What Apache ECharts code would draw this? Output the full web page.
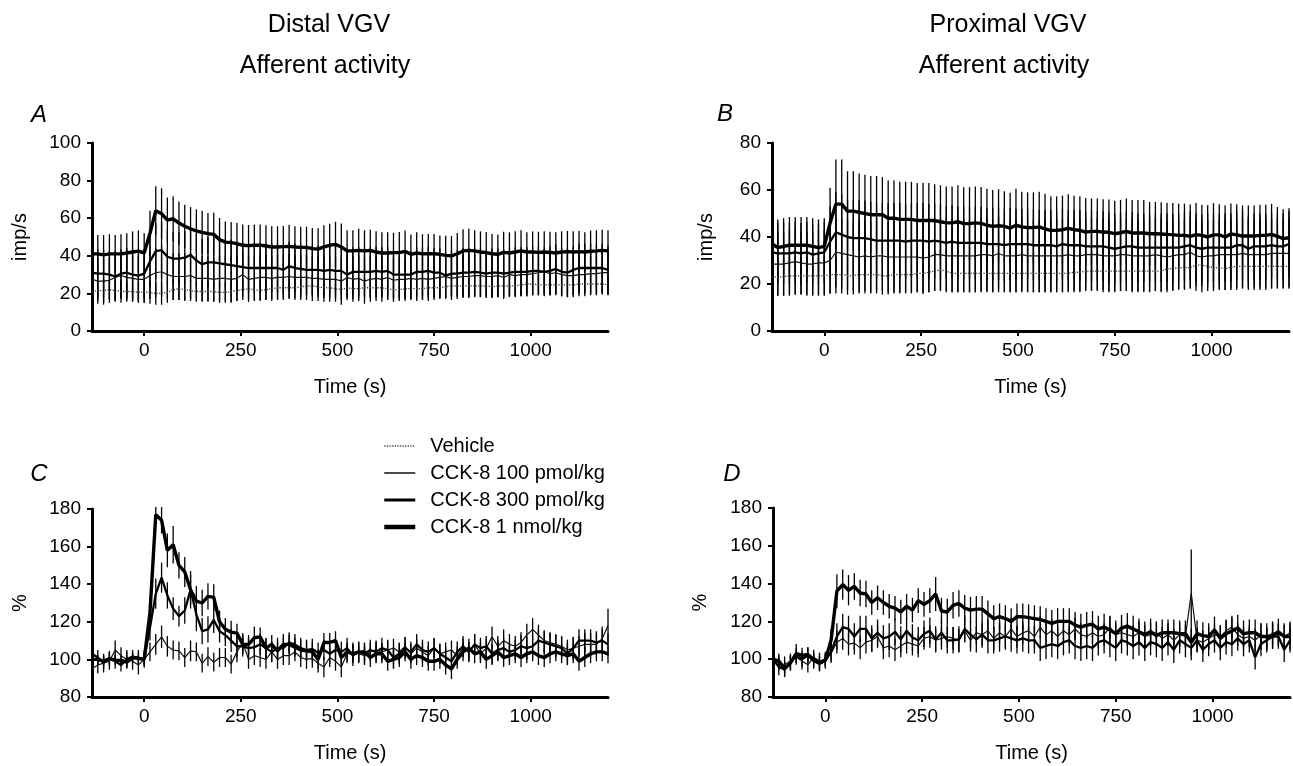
<!DOCTYPE html>
<html>
<head>
<meta charset="utf-8">
<script src="https://cdn.jsdelivr.net/npm/echarts@6/dist/echarts.min.js"></script>
<style>html,body{margin:0;padding:0;background:#fff}#c{width:1293px;height:766px}</style>
</head>
<body>
<div id="c"></div>
<script>
// ---------- DATA ----------
const time = [-135,-120,-105,-90,-75,-60,-45,-30,-15,0,15,30,45,60,75,90,105,120,135,150,165,180,195,210,225,240,255,270,285,300,315,330,345,360,375,390,405,420,435,450,465,480,495,510,525,540,555,570,585,600,615,630,645,660,675,690,705,720,735,750,765,780,795,810,825,840,855,870,885,900,915,930,945,960,975,990,1005,1020,1035,1050,1065,1080,1095,1110,1125,1140,1155,1170,1185,1200];
const xTicks = [0, 250, 500, 750, 1000];
const seriesNames = ['Vehicle', 'CCK-8 100 pmol/kg', 'CCK-8 300 pmol/kg', 'CCK-8 1 nmol/kg'];

// Panel A (Distal, imp/s)
const A_veh = [21,21.5,21.5,22,21.5,21,21,21,20.5,21,
20.5,20,20,20.5,22,22.5,22,21.5,21,21,21,21,20.5,20.5,21,21.5,22,22.5,22,21.5,22,22.5,23,23,23,23,23.5,24,24,23.5,23,23,
22.5,22,23,22.5,22.5,23,23,23,23,22.5,22,22,22.5,22.5,22.5,22.5,23,23,23,23.5,24,24,24,24,24,24,24,23.5,24,24,24,24,24.5,25,25,24.5,24.5,24.5,24.5,24.5,24.5,24.5,25,25,25,25,25,24.5];
const A_100 = [27.5,26.5,26.5,27,28.5,29.5,28.5,28,27.5,27.5,
29.5,31,31.5,30,29,29,29,29.5,28,28,28,27.5,28,28,27.5,28,30,27.5,28,28.5,28.5,28,28.5,28.5,29,28.5,28.5,28.5,28,28,27.5,27.5,
27.5,26.5,28.5,27.5,28,26.5,27.5,28,27.5,28.5,27,27.5,27.5,28,27.5,28,27.5,28,28.5,29,28,28.5,29,29,29.5,29.5,29,29,29.5,28.5,30,29.5,30,30,30.5,31,31.5,30.5,31,30,29.5,29.5,30,30,30.5,30.5,31,31];
const A_300 = [31,30.5,30.5,30,29,30.5,31,30,29.5,30.5,
37,42.5,43,39.5,38.5,38.5,39,40.5,37.5,35.5,36.5,36.5,36,35.5,35,34.5,34,33.5,33.5,33.5,33.5,33.5,33.5,32.5,34.5,33.5,33,32.5,32.5,32.5,32,32.5,
32,32,30,31.5,31.5,31.5,31.5,32,31.5,32,30,30,30,30,31.5,31.5,32,31,31,29.5,30.5,30.5,31,31,31.5,31,30.5,31,31,30.5,31,31.5,31.5,31.5,32,32,31.5,32,33,31.5,31,32.5,33.5,33.5,33.5,33.5,33.5,32.5];
const A_1n = [41,41,40.5,41,41,41,41.5,42,42.5,41.5,
52,64,62.4,59,59.7,57.4,55.7,54.4,53.2,52.5,51.8,51.4,48.6,47.3,47,46.5,45.6,45.4,45.6,45.7,45.2,44.7,44.7,44.9,45,44.7,44.5,44.5,43.8,43.6,44.7,45.6,
46.1,44.7,42.6,42.6,42.9,42.6,42.9,42,41.5,41.5,41.7,41.7,42.4,40.8,41.5,41,41.1,41.1,40.8,40.2,40,41.1,42.6,42.9,42.6,42,41.7,41.1,40.8,41.8,41.5,42,42.6,42,42,41.8,42,41.8,41.5,42,42.2,42,42.2,42,42.4,42.6,42.9,42.6];
const A_veh_sem = [5.5,5.5,6,5.5,5.5,6,5.5,5.5,5.5,6,
6,6,6,5.5,5.5,6,6,5.5,5.5,5.5,5.5,5.5,5.5,5.5,6,5.5,5.5,5.5,5.5,5.5,5.5,5.5,6,5.5,5.5,5.5,5.5,5.5,5.5,5.5,5.5,5.5,
5.5,5.5,5.5,5.5,5.5,5.5,5.5,5.5,5.5,5.5,5.5,5.5,5.5,5.5,5.5,5.5,5.5,5.5,5.5,5.5,5.5,5.5,5.5,5.5,5.5,5.5,5.5,5.5,5.5,5.5,5.5,5.5,5.5,5.5,5.5,5.5,5.5,5.5,5.5,5.5,5.5,5.5,5.5,5.5,5.5,5.5,5.5,5.5];
const A_100_sem = [12,12,12.5,12,12,12.5,12,12,12,12.5,
12.5,13,13.5,13,12.5,12.5,12.5,12.5,12,12,12,12,12,12,12,12,12,12,12,12,12,12,12,12,12,12,12,12,12,12,12,12,
12,12.5,12,12,12,12,12,12,12,12,11.5,11.5,11.5,11.5,11.5,11.5,11.5,11.5,11.5,11.5,11.5,11.5,11.5,11.5,11.5,11.5,11.5,11.5,11.5,11.5,11.5,11.5,11.5,11.5,11.5,11.5,11.5,11.5,11.5,11.5,11.5,11.5,11.5,11.5,11.5,11.5,11.5,11.5];
const A_300_sem = [13,13,12.5,13,13.5,13,13,13.5,13,13,
14,15,15,14.5,14,14,14,14.5,14,13.5,13.5,13.5,13.5,13.5,13.5,13,13,13,13,13,13,13,13,13,13,13,13,13,13,13,13,13,
13,13,12.5,13,13,13,13,13,13,13,12.5,12.5,12.5,12.5,13,13,13,13,13,12.5,12.5,12.5,13,13,13,13,12.5,13,13,13,13,13,13,13,13,13,13,13,13,13,13,13,13,13,13,13,13,13];
const A_1n_sem = [10,10,10.5,10.5,10,10.5,10.5,11,11,10.5,
12,13,13.5,12,12,11.5,11.5,11.5,11.5,11.5,11,11.5,11.5,11,11,11,11,11,11,11,11,11,11,11,11.5,11,11,11,11,11,11.5,11.5,
12,12.5,11,11,11.5,11,11,11,11,11,10.5,11,11,10.5,11,10.5,10.5,10.5,10,10.5,10.5,11,11.5,11.5,11,11,11,10.5,10.5,11,11,11,11,10.5,11,11,11,11,11,11,11,11,11,10.5,11,11,11,11];

// Panel B (Proximal, imp/s)
const B_veh = [23,23,23,23.5,23.5,23.5,23.5,23.5,23.5,23.5,
24,24,24,23.5,23.5,24,24,24,24,23.5,23.5,24,24,24,24,24.5,24.5,25,25.5,26,25.5,24.5,24.5,24.5,24.5,24.5,24.5,24.5,24.5,24.5,24.5,24.5,
24.5,24.5,24.5,24.5,24.5,24.5,24.5,24.5,24.5,24.5,25,25,25.5,25.5,25.5,25.5,25.5,25.5,25.5,25.5,25.5,25.5,25.5,25.5,25.5,25.5,26.5,26.5,27,27,27,28,28,27.5,27,27,26.5,27,27.5,27.5,27.5,27.5,27.5,27.5,27.5,27.5,27.5,27.5];
const B_100 = [28.5,28.5,28.5,29,29.5,29,28.5,28.5,29,29,
30,33.5,33,32.5,32,31.5,32,31.5,32,32,31.5,31.5,31.5,31.5,31.5,31.5,31,31.5,32.5,32.5,32,32,32,32,32,32,32.5,32.5,32,33,32,32,
32,32.5,32,32,32,32,32,32,32,32.5,32,32,32.5,32.5,32.5,32,32,32,32.5,32.5,32,32,32,32,32.5,32,31.5,32,32.5,32.5,33.5,32,31.5,32,32,32.5,32.5,32.5,32.5,33,32.5,32.5,32.5,32.5,33,33,33,33];
const B_300 = [33.5,33,33,33,33.5,33,33.5,32.5,33,33.5,
38,42,41,40,39.5,39.5,39.5,39,38.5,38.5,38.5,38.5,38.5,38,38.5,38.5,38.5,38,38.5,38,37.5,38,37.5,37.5,37.5,37.5,37.5,37,37,37,36.5,37,
37,37,37,36.5,36.5,36.5,36.5,36,37,36.5,36.5,36.5,36,36,36,36,35.5,35,35.5,36,36,35.5,35.5,35.5,35.5,35.5,35.5,35.5,35.5,36,36.5,35.5,35,35.5,35.5,35.5,35.5,35.5,36.5,36.5,35,36,36,36,36.5,36,36,37];
const B_1n = [37,35.5,36,36.5,36.5,36.5,36.5,36,35.5,36,
46,54,54,51,51,50.5,50,49.5,49.5,49.5,48,48,47.5,47.5,47.5,47,47,47,47,46.5,46,46,46.5,45.7,45.7,46,45.8,45,44.5,44.8,44.5,43.8,
45,44.3,44,44,44.3,43.4,42.8,42.8,43.1,43.7,43.1,42.8,42.1,42.4,42.4,42.1,42,41.4,41.8,42.4,41.7,41.7,41.7,41.4,41.4,41.3,41.1,41,40.7,40.7,40.3,41,40.7,40,40.9,40.9,40,41.3,40.9,40.4,40.4,40.4,40.7,40.7,41.1,40.3,39.3,39.7];
const B_veh_sem = [8,8,8,8,8,8,8,8,8,8,
8,8,8,8,8,8,8,8,8,8,8,8,8,8,8,8,8.5,8.5,8.5,8.5,8.5,8,8,8,8,8,8,8,8,8,8,8,
8,8,8,8,8,8,8,8,8,8,8,8,8,8,8,8,8.5,8.5,8.5,8.5,8.5,8.5,8.5,8.5,8.5,8.5,9,9,9,9,9,9,9,9,9,9,9,9,9,9,9,9,9,9,9,9,9,9];
const B_100_sem = [13.5,13.5,13.5,14,14,13.5,13.5,13.5,14,14,
14,15,15,15,15,15,15,15,15,15,15,15,15,15,15,15,15,15,15.5,15.5,15.5,15.5,15.5,15.5,15.5,15.5,15.5,15.5,15.5,15.5,15.5,15.5,
15.5,15.5,15.5,15.5,15.5,15.5,15.5,15.5,15.5,15.5,15.5,15.5,15.5,15.5,15.5,15.5,15.5,15.5,15.5,15.5,15.5,15.5,15.5,15.5,15.5,15.5,15,15,15,15,15,15,15,15,15,15,15,15,15,15,15,15,15,15,15,15,15,15];
const B_300_sem = [13,13,13,13,13,13,13,13,13,13,
15,17,17,16,16,16,16,16,16,16,16,16,16,16,16,16,16,16,16,16,15.5,15.5,15.5,15.5,15.5,15.5,15.5,15.5,15.5,15.5,15.5,15.5,
15,15,15,15,15,15,15,15,15,15,15,15,15,15,15,15,15,15,15,15,14.5,14.5,14.5,14.5,14.5,14.5,14.5,14.5,14.5,14.5,14.5,14.5,14.5,14.5,14.5,14.5,14.5,14.5,14.5,14.5,14,14,14,14,14,14,14,14];
const B_1n_sem = [12.5,12,12,12,12,12,12,12,12,12,
15,19,19,17,17,16.5,16.5,16.5,16.5,16,16,16,16,16,16,16,16,16,15.5,15.5,15.5,15.5,15.5,15.5,15.5,15.5,15.5,15.5,15.5,15.5,15,15,
15.5,15,15,15,15,15,14.5,14.5,14.5,14.5,14.5,14.5,14.5,14,14,14,14,14,14,14,14,14,14,13.5,13.5,13.5,13.5,13.5,13.5,13.5,13.5,13.5,13,13.5,13.5,13,13.5,13,13,13,13,13,13,13,13,12.5,12.5,12.5];

// Panel C (Distal, %)
const C_100 = [95,97,98,99,105,102,100,99,97,100,
104,108,112,107,105,104.5,101,104.5,104,98,101.5,98.5,101,101,97.5,104,109,100,102,101,100,104,100,102,102,104,101,100,100.5,98,96,101,
99,96,103,104,103,102,104,105,104,105,106,104,107,103,106,104,102,106,103,104,105,102,106,104,108,103,106,112,107,110,108,107,109,113,116,113,110,109,108,107,105,106,107,108,108,108,111,118];
const C_300 = [103,101,98.5,100.5,99,97,100,101.5,101,100,
117,135,143.5,134,127,123,126,137,124,115,116,121,115,113,110,107,107,106,106.5,108,106,104,106,106,109,108,106,105,105.5,103.5,105,103,
105,104,106,102,104,103,105,104,106,105,101,103,106,104,108,105,104,106,103,101,99,104,107,104,108,106,107,103,105,106,104,105,107,106,107,110,109,108,107,106,103,106,110,110,110,109,110,108];
const C_1n = [100,100,99,100.5,99.5,99.5,98.5,101,100.5,100,
125,177,174,158,161,150,146.5,137,131,130,133.5,133,120,116,114.5,114,108,108,111.5,112,106,108,104.5,108,108,106.5,105,104.5,104,100,109,109,
110,101,104,103,104,104,101,103,103,99,100,101,104,100,102,101,99,99,100,97,95,100,104,106,103,104,100,102,104,101,102,103,101,103,104,102,101,103,104,103,102,103,99,101,103,104,104,103];
const C_100_sem = [5,4.5,5,4.5,5,4.5,5,4.5,5,4.5,
5,5.5,6,5.5,5,5,5,5.5,5,5,5,5,5,5,5,5.5,5,5,5,5,5,5,5,5,5,5,5,5,5,5,5.5,5,
5,5.5,5,5,5,5,5,5,5,5,5,5,5,5,5,5,5,5,5,5,5,5,5,5,5.5,5,5,5.5,5.5,6,5.5,5.5,5.5,6,6,5.5,5.5,5.5,5.5,5.5,5.5,5.5,5.5,6,6,6,6.5,9];
const C_300_sem = [4,4,3.5,4,4,3.5,4,3.5,4,3.5,
7,8,8,7,6,5.5,7,8,9,7,7,7,6,6,6,6,5.5,5.5,5.5,5.5,5.5,5.5,5.5,5.5,5.5,5.5,5.5,5.5,5.5,5.5,5.5,5.5,
5.5,5.5,5.5,5.5,5.5,5.5,5.5,5.5,5.5,5.5,5.5,5.5,5.5,5.5,5.5,5.5,5.5,5.5,5.5,5.5,5.5,5.5,5.5,5.5,5.5,5.5,5.5,5.5,5.5,5.5,5.5,5.5,6,6,6,6,6,6,6,6,6,6,6,6,6,6,6,6];
const C_1n_sem = [3,2.5,3,3,2.5,3,3,2.5,3,2.5,
6,4,7,9,10,7,8,10,8,7,7,7,6,6,6,5,5,5,6,5,5,5,5,5.5,5,5,5,5,5,5,5,5,
5,5,5,5,5,5,5,5,5,5,5,5,5,5,5,5,5,5,5,5,5.5,5,5,5,5,5,5,5,5,5,5,5,5,5,5,5,5,5,5,5,5,5,5,5,5,5,5,5];

// Panel D (Proximal, %)
const D_100 = [100,98,97,99,101,99,97,101,99,100,
103,109,111,108,108.5,106,109,110,112,106,107,105,107,109,108,107,111,112,110,111,112,111,110,115,110,114,113,115,111,114,112,116,
112,114,115,112,117,113,115,112,115,113,116,113,112,114,112,113,117,113,114,113,112,114,112,113,114,111,113,110,113,112,135,110,109,111,113,112,115,117,113,111,112,110,113,111,114,113,112,114];
const D_300 = [100,96,94.5,98,102,100,102,99,97.5,99,
104,112,117,116,112,116,116,111,114,111,112,114.5,110.5,115,111.5,110,113.5,115,110.5,114,110,110,110.5,116,113,110.5,113,110,110,111,112,111,
110,111,110,110,106,107,108,107,109,110,107,106,107,106,109,110,108,106,110,109,107,109,106,109,108,106,109,105,110,108,106,110,105,108,110,106,109,108,111,108,110,101,108,110,112,112,105,110];
const D_1n = [100,99,95,98,103,102,102.5,100,98,99.5,
110,136,139.5,136.5,138.5,135,134.5,130,132.5,130,128,127,125,128,126,131,129,131,134.5,125.5,125,128.5,129.5,127,126,126.5,126.5,124,121.5,122.5,121.5,120,
122.5,122.5,122,121.5,121,120,119,120,120,120,118,117,118,118.5,116,117,115.5,113.5,116.5,117.5,116,114.5,113,114.5,112.5,114,114,114,113.5,113.5,109,113.5,112.5,112,115.5,111,113.5,115,116.5,113.5,114,114,112,112,112.5,114.5,112,112];
const D_100_sem = [4,4,4.5,4,4,4.5,4,4,4.5,4,
5,6,6,6,6,6,6,6,6,6,6,6,6,6,6,6,6,6,6,6,6,6,6,6,6,6,6,6,6,6,6,6,
6,6,6,6,6,6,6,6,6,6,6,6,6,6,6,6,6,6,6,6,6,6,6,6,6,6,6,6,6,6,23,6,6,6,6,6,6,6,6,6,6,6,6,6,6,6,6,6];
const D_300_sem = [4,4.5,4,4,4,4,4,4,4,4,
5,7,7,7,7,7,7,7,7,7,7,7,7,7,7,7,7,7,7,7,7,7,7,7,7,7,7,7,7,7,7,7,
7,7,7,7,7,7,7,7,7,7,7,7,7,7,7,7,7,7,7,7,7,7,7,7,7,7,7,7,7,7,6.5,6.5,6.5,6.5,6.5,6.5,6.5,6.5,6.5,6.5,6.5,6.5,6.5,6.5,6.5,6.5,6.5,6.5];
const D_1n_sem = [4,4,4,4,5,4,4,4,4,3,
6,9,8,8,7,7,7,6.5,6.5,6.5,6.5,6.5,6.5,6.5,6.5,6.5,6.5,6.5,9,7,7,7,7,7,7,7,7,7,7,7,7,7,
7,7,7,7,7,7,7,7,7,7,7,7,7,7,7,7,7,7,7,7,7,7,7,7,7,7,7,7,7,7,7,7,7,7,7,7,7,7,7,7,7,7,7,7,7,7,7,7];

// ---------- CHART ----------
const FONT = 'Liberation Sans, Arial, Helvetica, sans-serif';
const styles = {
  'Vehicle': {color: '#444', width: 1.3, type: 'dotted'},
  'CCK-8 100 pmol/kg': {color: '#111', width: 1.2, type: 'solid'},
  'CCK-8 300 pmol/kg': {color: '#000', width: 2.3, type: 'solid'},
  'CCK-8 1 nmol/kg': {color: '#000', width: 3.4, type: 'solid'}
};
const panels = [
  {grid: {left: 92, top: 143, width: 516, height: 188}, yMin: 0, yMax: 100, yName: 'imp/s', nameGap: 62,
   sets: [['Vehicle', A_veh, A_veh_sem], ['CCK-8 100 pmol/kg', A_100, A_100_sem], ['CCK-8 300 pmol/kg', A_300, A_300_sem], ['CCK-8 1 nmol/kg', A_1n, A_1n_sem]]},
  {grid: {left: 772, top: 143, width: 517, height: 188}, yMin: 0, yMax: 80, yName: 'imp/s', nameGap: 56,
   sets: [['Vehicle', B_veh, B_veh_sem], ['CCK-8 100 pmol/kg', B_100, B_100_sem], ['CCK-8 300 pmol/kg', B_300, B_300_sem], ['CCK-8 1 nmol/kg', B_1n, B_1n_sem]]},
  {grid: {left: 92, top: 509, width: 516, height: 188}, yMin: 80, yMax: 180, yName: '%', nameGap: 62,
   sets: [['CCK-8 100 pmol/kg', C_100, C_100_sem], ['CCK-8 300 pmol/kg', C_300, C_300_sem], ['CCK-8 1 nmol/kg', C_1n, C_1n_sem]]},
  {grid: {left: 773, top: 508, width: 517, height: 189}, yMin: 80, yMax: 180, yName: '%', nameGap: 63,
   sets: [['CCK-8 100 pmol/kg', D_100, D_100_sem], ['CCK-8 300 pmol/kg', D_300, D_300_sem], ['CCK-8 1 nmol/kg', D_1n, D_1n_sem]]}
];

const grids = [], xAxes = [], yAxes = [], series = [];
panels.forEach((p, gi) => {
  grids.push(Object.assign({containLabel: false}, p.grid));
  xAxes.push({
    type: 'value', gridIndex: gi, min: -135, max: 1200,
    name: 'Time (s)', nameLocation: 'middle', nameGap: 46,
    nameTextStyle: {fontFamily: FONT, fontSize: 20, color: '#000'},
    axisLine: {show: true, onZero: false, lineStyle: {color: '#000', width: 3}},
    axisTick: {show: true, customValues: xTicks, length: 5, lineStyle: {color: '#000', width: 2}},
    axisLabel: {customValues: xTicks, margin: 10, fontFamily: FONT, fontSize: 19, color: '#000',
                formatter: v => String(v)},
    splitLine: {show: false}
  });
  yAxes.push({
    type: 'value', gridIndex: gi, min: p.yMin, max: p.yMax, interval: 20,
    name: p.yName, nameLocation: 'middle', nameGap: p.nameGap, nameRotate: 90,
    nameTextStyle: {fontFamily: FONT, fontSize: 20, color: '#000'},
    axisLine: {show: true, onZero: false, lineStyle: {color: '#000', width: 3}},
    axisTick: {show: true, length: 5, lineStyle: {color: '#000', width: 2}},
    axisLabel: {margin: 11, fontFamily: FONT, fontSize: 19, color: '#000'},
    splitLine: {show: false}
  });
  p.sets.forEach(([name, vals, sem]) => {
    series.push({
      type: 'custom', xAxisIndex: gi, yAxisIndex: gi, z: 1, silent: true,
      encode: {x: 0, y: [1, 2]}, clip: false,
      data: time.map((t, i) => [t, vals[i] - sem[i], vals[i] + sem[i]]),
      renderItem: function (params, api) {
        const a = api.coord([api.value(0), api.value(1)]);
        const b = api.coord([api.value(0), api.value(2)]);
        return {type: 'line', shape: {x1: a[0], y1: a[1], x2: b[0], y2: b[1]},
                style: {stroke: '#000', lineWidth: 1.3}};
      }
    });
    series.push({
      type: 'line', name: name, xAxisIndex: gi, yAxisIndex: gi, z: 3,
      symbol: 'none', showSymbol: false, silent: true, animation: false,
      lineStyle: Object.assign({}, styles[name]),
      itemStyle: {color: styles[name].color},
      data: time.map((t, i) => [t, vals[i]])
    });
  });
});

const legendWidths = {'Vehicle': 1.3, 'CCK-8 100 pmol/kg': 1.5, 'CCK-8 300 pmol/kg': 3, 'CCK-8 1 nmol/kg': 4.5};
const chart = echarts.init(document.getElementById('c'), null, {renderer: 'canvas'});
chart.setOption({
  animation: false,
  backgroundColor: '#fff',
  grid: grids, xAxis: xAxes, yAxis: yAxes, series: series,
  legend: {
    orient: 'vertical', left: 382, top: 436, padding: 0,
    itemWidth: 31, itemHeight: 14, itemGap: 7,
    selectedMode: false,
    itemStyle: {opacity: 0, borderWidth: 0},
    textStyle: {fontFamily: FONT, fontSize: 20, color: '#000', lineHeight: 20, padding: [0, 0, 0, 10]},
    data: seriesNames.map(n => ({name: n, itemStyle: {opacity: 0, borderWidth: 0},
      lineStyle: {width: legendWidths[n], color: styles[n].color, type: styles[n].type, opacity: 1}}))
  },
  graphic: [
    {type: 'text', x: 329, y: 25, style: {text: 'Distal VGV', font: '25px ' + FONT, fill: '#000', align: 'center', verticalAlign: 'middle'}},
    {type: 'text', x: 325, y: 66, style: {text: 'Afferent activity', font: '25px ' + FONT, fill: '#000', align: 'center', verticalAlign: 'middle'}},
    {type: 'text', x: 1008, y: 25, style: {text: 'Proximal VGV', font: '25px ' + FONT, fill: '#000', align: 'center', verticalAlign: 'middle'}},
    {type: 'text', x: 1004, y: 66, style: {text: 'Afferent activity', font: '25px ' + FONT, fill: '#000', align: 'center', verticalAlign: 'middle'}},
    {type: 'text', x: 39, y: 115, style: {text: 'A', font: 'italic 24px ' + FONT, fill: '#000', align: 'center', verticalAlign: 'middle'}},
    {type: 'text', x: 725, y: 114, style: {text: 'B', font: 'italic 24px ' + FONT, fill: '#000', align: 'center', verticalAlign: 'middle'}},
    {type: 'text', x: 39, y: 474, style: {text: 'C', font: 'italic 24px ' + FONT, fill: '#000', align: 'center', verticalAlign: 'middle'}},
    {type: 'text', x: 732, y: 474, style: {text: 'D', font: 'italic 24px ' + FONT, fill: '#000', align: 'center', verticalAlign: 'middle'}}
  ]
});
</script>
</body>
</html>
